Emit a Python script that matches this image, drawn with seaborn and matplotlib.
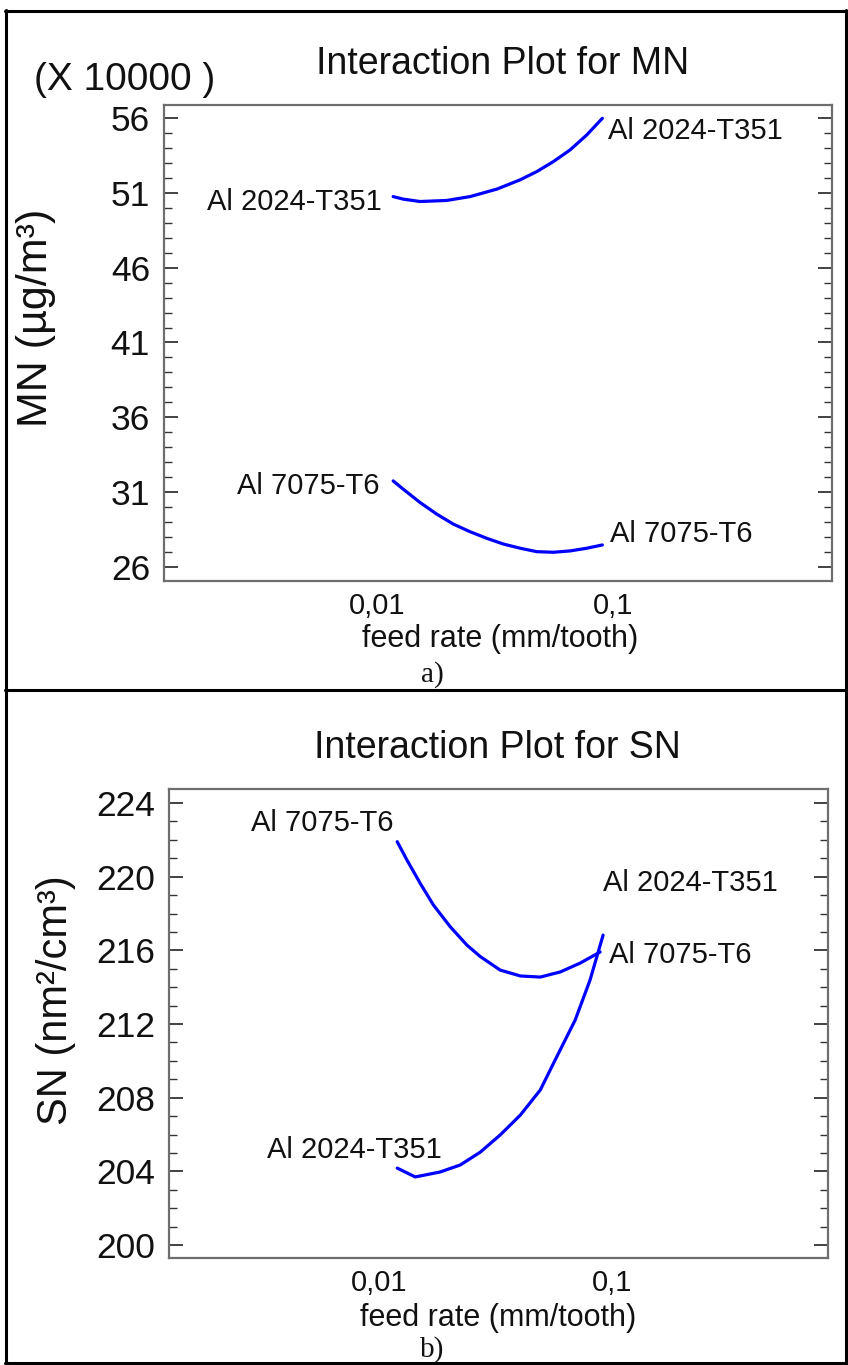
import numpy as np
import pandas as pd
import matplotlib
matplotlib.use("Agg")
import matplotlib.pyplot as plt
import seaborn as sns
from matplotlib.lines import Line2D
from matplotlib.ticker import MultipleLocator, FixedLocator, NullLocator

sns.set_theme(style="white")
plt.rcParams['font.family'] = ['Liberation Sans', 'DejaVu Sans']

# ---------------- data ----------------
materials = ["Al 2024-T351", "Al 7075-T6"]

# panel a: MN (x 10000 ug/m3)
feed_a_2024 = [0.0117, 0.0129, 0.0152, 0.0197, 0.0248, 0.0322, 0.0404, 0.0475, 0.0559, 0.0658, 0.0774, 0.0901]
mn_2024 = [50.75, 50.58, 50.42, 50.49, 50.75, 51.25, 51.87, 52.42, 53.09, 53.87, 54.87, 55.98]
feed_a_7075 = [0.0117, 0.0129, 0.0152, 0.0179, 0.0210, 0.0248, 0.0292, 0.0343, 0.0404, 0.0475, 0.0559, 0.0658, 0.0774, 0.0901]
mn_7075 = [31.75, 31.20, 30.31, 29.53, 28.87, 28.35, 27.91, 27.53, 27.25, 27.02, 26.98, 27.07, 27.25, 27.47]

# panel b: SN (nm2/cm3)
feed_b_7075 = [0.01195, 0.01315, 0.0150, 0.0171, 0.0202, 0.0238, 0.0272, 0.0331, 0.0404, 0.0492, 0.0600, 0.0730, 0.0889]
sn_7075 = [221.90, 220.91, 219.64, 218.46, 217.28, 216.29, 215.66, 214.93, 214.61, 214.55, 214.83, 215.31, 215.91]
feed_b_2024 = [0.01195, 0.01428, 0.01828, 0.0223, 0.0272, 0.0331, 0.0404, 0.0492, 0.0570, 0.0695, 0.0805, 0.0916]
sn_2024 = [204.18, 203.70, 203.97, 204.35, 205.05, 205.98, 207.06, 208.42, 210.05, 212.22, 214.39, 216.83]

x_ticks = [0.01, 0.1]
x_ticklabels = ["0,01", "0,1"]
yticks_a = [26, 31, 36, 41, 46, 51, 56]
yticks_b = [200, 204, 208, 212, 216, 220, 224]

W, H = 848, 1365
fig = plt.figure(figsize=(W / 100, H / 100), dpi=100)


def fr(px_left, px_top, px_right, px_bottom):
    return [px_left / W, 1 - px_bottom / H, (px_right - px_left) / W, (px_bottom - px_top) / H]


def style_axes(ax, yticks, ylim, minor_step):
    ax.set_xscale("log")
    ax.set_xlim(10 ** -2.903, 10 ** -0.072)
    ax.set_ylim(*ylim)
    ax.xaxis.set_major_locator(FixedLocator(x_ticks))
    ax.set_xticklabels(x_ticklabels)
    ax.xaxis.set_minor_locator(NullLocator())
    ax.tick_params(axis="x", which="both", length=0, pad=8, labelsize=21, colors="#111111")
    ax.yaxis.set_major_locator(FixedLocator(yticks))
    ax.yaxis.set_minor_locator(MultipleLocator(minor_step))
    ax.tick_params(axis="y", which="major", direction="in", length=10, width=1.2,
                   left=True, right=True, labelsize=25.5, pad=10, colors="#222222",
                   labelcolor="#111111")
    ax.tick_params(axis="y", which="minor", direction="in", length=5.5, width=1.0,
                   left=True, right=True, colors="#333333")
    for s in ax.spines.values():
        s.set_color("#6e6e6e")
        s.set_linewidth(1.6)
    ax.set_xlabel("")
    ax.set_ylabel("")
    ax.grid(False)
    ax.set_facecolor("white")


def draw(ax, feeds, vals, labels, offsets):
    for f, v, lab, (off_l, off_r) in zip(feeds, vals, labels, offsets):
        df = pd.DataFrame({"feed": f, "val": v})
        sns.lineplot(data=df, x="feed", y="val", ax=ax, color="#0000ff", lw=2.3,
                     estimator=None, sort=False)
        ax.annotate(lab, (f[0], v[0]), xytext=off_l, textcoords="offset pixels",
                    ha="right", va="center", fontsize=21, color="#111111")
        ax.annotate(lab, (f[-1], v[-1]), xytext=off_r, textcoords="offset pixels",
                    ha="left", va="center", fontsize=21, color="#111111")


# ---------------- panel a ----------------
ax1 = fig.add_axes(fr(164, 105, 832, 581))
draw(ax1, [feed_a_2024, feed_a_7075], [mn_2024, mn_7075], materials,
     [((-11, -5), (6, -13)), ((-14, -5), (8, 11))])
style_axes(ax1, yticks_a, (25.06, 56.87), 1)
fig.text(503 / W, 1 - 64 / H, "Interaction Plot for MN", ha="center", va="center", fontsize=27, color="#111111")
fig.text(34 / W, 1 - 80 / H, "(X 10000 )", ha="left", va="center", fontsize=28, color="#111111")
fig.text(36 / W, 1 - 318 / H, "MN (µg/m³)", ha="center", va="center", rotation=90, fontsize=31, color="#111111")
fig.text(500 / W, 1 - 639 / H, "feed rate (mm/tooth)", ha="center", va="center", fontsize=22, color="#111111")
fig.text(432 / W, 1 - 675 / H, "a)", ha="center", va="center", fontsize=21,
         family=["Liberation Serif", "DejaVu Serif"], color="#111111")

# ---------------- panel b ----------------
ax2 = fig.add_axes(fr(169, 789, 828, 1258))
draw(ax2, [feed_b_2024, feed_b_7075], [sn_2024, sn_7075], materials,
     [((45, 18), (0, 52)), ((-4, 19), (9, -3))])
style_axes(ax2, yticks_b, (199.3, 224.76), 1)
fig.text(497 / W, 1 - 748 / H, "Interaction Plot for SN", ha="center", va="center", fontsize=27, color="#111111")
fig.text(56 / W, 1 - 1000 / H, "SN (nm²/cm³)", ha="center", va="center", rotation=90, fontsize=30, color="#111111")
fig.text(498 / W, 1 - 1318 / H, "feed rate (mm/tooth)", ha="center", va="center", fontsize=22, color="#111111")
fig.text(432 / W, 1 - 1350 / H, "b)", ha="center", va="center", fontsize=21,
         family=["Liberation Serif", "DejaVu Serif"], color="#111111")

# ---------------- frame lines ----------------
def hline(y, x0=5, x1=848):
    fig.add_artist(Line2D([x0 / W, x1 / W], [1 - y / H, 1 - y / H], color="black", lw=2.2))


def vline(x, y0=10, y1=1364):
    fig.add_artist(Line2D([x / W, x / W], [1 - y0 / H, 1 - y1 / H], color="black", lw=2.2))

hline(11)
hline(690)
hline(1363)
vline(6)
vline(846)

fig.savefig("out.png", dpi=100, facecolor="white")
